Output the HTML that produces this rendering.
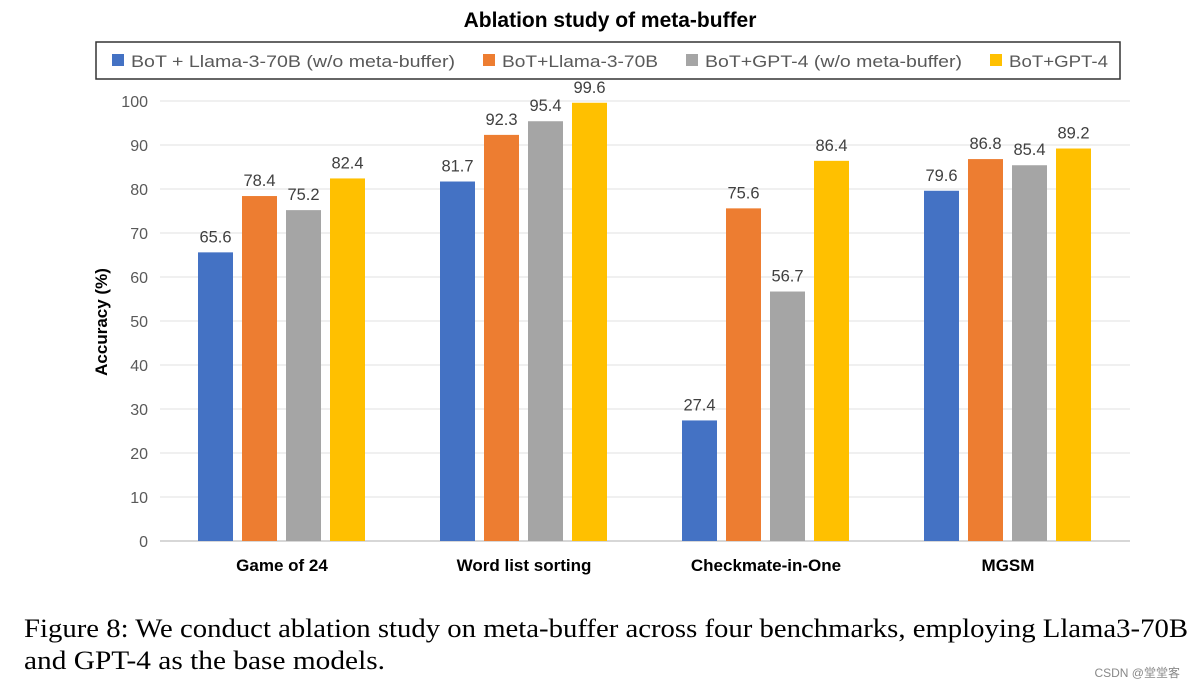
<!DOCTYPE html>
<html><head><meta charset="utf-8"><style>
body{margin:0;background:#fff;width:1195px;height:689px;overflow:hidden;font-family:"Liberation Sans","Noto Sans CJK SC",sans-serif}
</style></head><body>
<svg id="c" width="1195" height="689" xmlns="http://www.w3.org/2000/svg">
<text x="610" y="27" text-anchor="middle" font-size="21" font-weight="bold" fill="#000">Ablation study of meta-buffer</text>
<rect x="96" y="42" width="1024" height="37" fill="#fff" stroke="#333" stroke-width="1.5"/>
<g id="legend" font-size="17" fill="#595959"></g>
<g id="grid"></g><g id="bars"></g>
<text transform="translate(107,322) rotate(-90)" text-anchor="middle" font-size="17" font-weight="bold" fill="#000">Accuracy (%)</text>
<text x="24" y="637" font-family="Liberation Serif,serif" font-size="26" fill="#000" textLength="1164" lengthAdjust="spacingAndGlyphs">Figure 8: We conduct ablation study on meta-buffer across four benchmarks, employing Llama3-70B</text>
<text x="24" y="669" font-family="Liberation Serif,serif" font-size="26" fill="#000" textLength="361" lengthAdjust="spacingAndGlyphs">and GPT-4 as the base models.</text>
<text x="1180" y="677" text-anchor="end" font-size="12" fill="#888">CSDN @堂堂客</text>
</svg>
<script>
const categories=["Game of 24","Word list sorting","Checkmate-in-One","MGSM"];
const seriesNames=["BoT + Llama-3-70B (w/o meta-buffer)","BoT+Llama-3-70B","BoT+GPT-4 (w/o meta-buffer)","BoT+GPT-4"];
const s1=[65.6,81.7,27.4,79.6];
const s2=[78.4,92.3,75.6,86.8];
const s3=[75.2,95.4,56.7,85.4];
const s4=[82.4,99.6,86.4,89.2];
const yTicks=[0,10,20,30,40,50,60,70,80,90,100];
const colors=["#4472C4","#ED7D31","#A5A5A5","#FFC000"];
const NS="http://www.w3.org/2000/svg";
const y=v=>541-v*4.4;
const cx=i=>282+i*242;
function mk(t,a,p){const e=document.createElementNS(NS,t);for(const k in a)e.setAttribute(k,a[k]);p.appendChild(e);return e;}
const grid=document.getElementById('grid'),bars=document.getElementById('bars'),lg=document.getElementById('legend');
yTicks.forEach(v=>{
 const l=mk('line',{x1:160,x2:1130,y1:y(v),y2:y(v),stroke:v===0?'#bfbfbf':'#e6e6e6','stroke-width':1.3},grid);
 
 
 const t=mk('text',{x:148,y:y(v)+6,'text-anchor':'end','font-size':16,fill:'#595959'},grid);t.textContent=v;
 
 
});
const series=[s1,s2,s3,s4];
categories.forEach((c,i)=>{
 series.forEach((s,j)=>{
  const x=cx(i)-84+j*44;
  const r=mk('rect',{x:x,y:y(s[i]),width:35,height:s[i]*4.4,fill:colors[j]},bars);
  
  
  const t=mk('text',{x:x+17.5,y:y(s[i])-10,'text-anchor':'middle','font-size':16.5,fill:'#404040'},bars);t.textContent=s[i];
  
  
 });
 const t=mk('text',{x:cx(i),y:571,'text-anchor':'middle','font-size':17,'font-weight':'bold',fill:'#000'},bars);t.textContent=c;
 
 
});
const lx=[112,483,686,990];
const lw=[324,156,257,99];
seriesNames.forEach((n,j)=>{
 const r=mk('rect',{x:lx[j],y:54,width:12,height:12,fill:colors[j]},lg);
 
 
 const t=mk('text',{x:lx[j]+19,y:67,textLength:lw[j],lengthAdjust:'spacingAndGlyphs'},lg);t.textContent=n;
 
 
});
</script>
</body></html>
